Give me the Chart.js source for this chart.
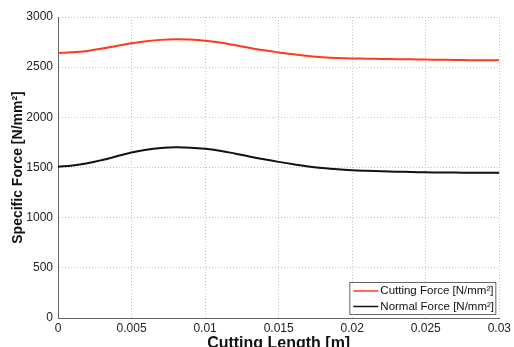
<!DOCTYPE html>
<html>
<head>
<meta charset="utf-8">
<script src="https://cdn.jsdelivr.net/npm/chart.js@4.4.1/dist/chart.umd.min.js"></script>
<style>
  html, body { margin: 0; padding: 0; background: #fff; }
  #wrap { width: 514px; height: 347px; }
</style>
</head>
<body>
<div id="wrap"><canvas id="forceChart" width="514" height="347"></canvas></div>
<script>
// cutting length [m]
const lengths = [0, 0.001, 0.002, 0.003, 0.004, 0.005, 0.006, 0.007, 0.008, 0.009, 0.010,
  0.011, 0.012, 0.013, 0.014, 0.015, 0.016, 0.017, 0.018, 0.019, 0.020,
  0.021, 0.022, 0.023, 0.024, 0.025, 0.026, 0.027, 0.028, 0.029, 0.030];

const cuttingForce = [2642, 2648, 2662, 2685, 2712, 2738, 2758, 2772, 2778, 2775, 2764,
  2745, 2720, 2693, 2668, 2647, 2628, 2612, 2600, 2592, 2587,
  2584, 2582, 2580, 2578, 2576, 2574, 2572, 2570, 2569, 2568];

const normalForce = [1508, 1520, 1543, 1575, 1612, 1650, 1678, 1695, 1701, 1698, 1687,
  1667, 1640, 1610, 1582, 1556, 1532, 1511, 1495, 1482, 1473,
  1467, 1462, 1458, 1455, 1452, 1450, 1449, 1448, 1447, 1447];

const seriesNames = ['Cutting Force [N/mm\u00B2]', 'Normal Force [N/mm\u00B2]'];
const seriesColors = ['#ff3a1c', '#111111'];

const FONT = "'Liberation Sans', Arial, sans-serif";

function toPoints(ys) {
  return lengths.map((x, i) => ({ x: x, y: ys[i] }));
}

// legend box drawn inside the plot, bottom right (like the matlab one)
const insideLegend = {
  id: 'insideLegend',
  afterDatasetsDraw(chart) {
    const ctx = chart.ctx;
    const area = chart.chartArea;
    const w = 146, h = 32;
    const x0 = area.right - w - 4;
    const y0 = area.bottom - h - 4;
    ctx.save();
    ctx.fillStyle = '#fff';
    ctx.fillRect(x0, y0, w, h);
    ctx.strokeStyle = '#666';
    ctx.lineWidth = 1;
    ctx.strokeRect(x0 + 0.5, y0 + 0.5, w, h);
    ctx.font = '11.5px ' + FONT;
    ctx.textBaseline = 'middle';
    chart.data.datasets.forEach((ds, i) => {
      const ly = y0 + 9 + i * 15.5;
      ctx.strokeStyle = ds.borderColor;
      ctx.lineWidth = 1.5;
      ctx.beginPath();
      ctx.moveTo(x0 + 4, ly);
      ctx.lineTo(x0 + 29, ly);
      ctx.stroke();
      ctx.fillStyle = '#111';
      ctx.fillText(ds.label, x0 + 31, ly);
    });
    ctx.restore();
  }
};

const ctx = document.getElementById('forceChart').getContext('2d');

const forceChart = new Chart(ctx, {
  type: 'line',
  data: {
    datasets: [
      {
        label: seriesNames[0],
        data: toPoints(cuttingForce),
        borderColor: seriesColors[0],
        borderWidth: 2,
        pointRadius: 0,
        tension: 0.4,
        fill: false
      },
      {
        label: seriesNames[1],
        data: toPoints(normalForce),
        borderColor: seriesColors[1],
        borderWidth: 2,
        pointRadius: 0,
        tension: 0.4,
        fill: false
      }
    ]
  },
  options: {
    responsive: false,
    animation: false,
    layout: { padding: { top: 17, right: 12, left: 0, bottom: 0 } },
    plugins: {
      legend: { display: false },
      tooltip: { enabled: false }
    },
    scales: {
      x: {
        type: 'linear',
        min: 0,
        max: 0.03,
        afterFit(scale) { scale.height = 29; },
        ticks: {
          stepSize: 0.005,
          padding: 3,
          color: '#222',
          font: { family: FONT, size: 12 },
          maxRotation: 0,
          callback: (v) => String(+v.toFixed(3))
        },
        grid: {
          color: '#c4c4c4',
          lineWidth: 1,
          drawTicks: false
        },
        border: { display: true, color: '#666', width: 1, dash: [1, 2] },
        title: {
          display: true,
          text: 'Cutting Length [m]',
          color: '#111',
          font: { family: FONT, size: 16, weight: 'bold' },
          padding: { top: 0, bottom: -6 }
        }
      },
      y: {
        min: 0,
        max: 3000,
        afterFit(scale) { scale.width = 58; },
        ticks: {
          stepSize: 500,
          padding: 5,
          color: '#222',
          font: { family: FONT, size: 12 },
          callback: (v) => String(v)
        },
        grid: {
          color: '#c4c4c4',
          lineWidth: 1,
          drawTicks: false
        },
        border: { display: true, color: '#666', width: 1, dash: [1, 2] },
        title: {
          display: true,
          text: 'Specific Force [N/mm\u00B2]',
          color: '#111',
          font: { family: FONT, size: 14, weight: 'bold' },
          padding: { top: 10, bottom: 0 }
        }
      }
    }
  },
  plugins: [insideLegend]
});
</script>
</body>
</html>
